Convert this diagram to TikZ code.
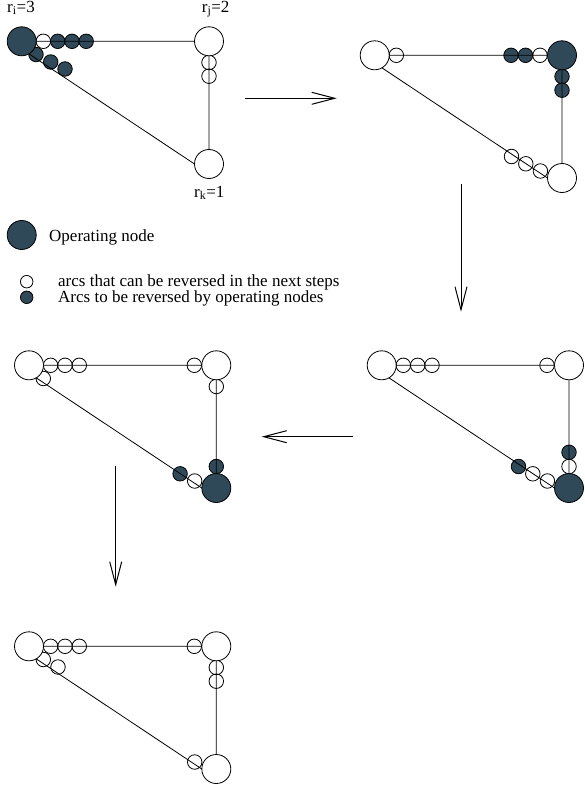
\documentclass[tikz,border=0pt]{standalone}
\usepackage{fontspec}
\setmainfont{Liberation Serif}
\usetikzlibrary{arrows.meta}
\definecolor{opnode}{RGB}{47,73,89}

\begin{document}
\begin{tikzpicture}[x=1pt,y=-1pt]
        \tikzstyle{vertex}=[circle,draw=black,line width=0.8pt,fill=white,minimum size=29pt,inner sep=0pt,outer sep=0pt]
        \tikzstyle{operating}=[vertex,fill=opnode]
        \tikzstyle{arc}=[circle,draw=black,line width=0.8pt,minimum size=14.5pt,inner sep=0pt]
        \tikzstyle{reversed}=[arc,fill=opnode]
        \tikzstyle{edge}=[draw=black,line width=0.8pt]
        \tikzstyle{flow}=[draw=black,line width=1pt,-{Straight Barb[length=23pt,width=12pt]}]
        \tikzstyle{rank}=[font=\fontsize{17}{20}\selectfont,inner sep=0pt]

        \useasboundingbox (0,0) rectangle (585,789);

       % step 1: i operates
       \begin{scope}
         \node [arc] (p1a1) at (43.3,41.3) {};
         \node [reversed] (p1a2) at (57.7,41.3) {};
         \node [reversed] (p1a3) at (72,41.3) {};
         \node [reversed] (p1a4) at (86.2,41.3) {};
         \node [reversed] (p1e1) at (36,54.5) {};
         \node [reversed] (p1e2) at (50.7,62) {};
         \node [reversed] (p1e3) at (65,69) {};
         \node [arc] (p1c1) at (209,62.5) {};
         \node [arc] (p1c2) at (209,76.2) {};

         \node [operating] (i1) at (21.7,41.3) {};
         \node [vertex] (j1) at (209,41.3) {};
         \node [vertex] (k1) at (209,164) {};

         \path[edge] (i1) -- (j1) (j1) -- (k1) (i1.-60) -- (k1.west);

         \node [rank,anchor=base west] (ri) at (7,12.3) {r\textsubscript{i}=3};
         \node [rank,anchor=base west] (rj) at (201.7,12.3) {r\textsubscript{j}=2};
         \node [rank,anchor=base west] (rk) at (194,197) {r\textsubscript{k}=1};
       \end{scope}

       % step 2: j operates
       \begin{scope}[shift={(353,14)}]
         \node [arc] (p2a1) at (43.3,41.3) {};
         \node [arc] (p2b1) at (187,41.3) {};
         \node [reversed] (p2b2) at (172.5,41.3) {};
         \node [reversed] (p2b3) at (158,41.3) {};
         \node [reversed] (p2c1) at (209,62.5) {};
         \node [reversed] (p2c2) at (209,76.2) {};
         \node [arc] (p2f1) at (187.4,157) {};
         \node [arc] (p2f2) at (172.8,149.8) {};
         \node [arc] (p2f3) at (158.5,142.5) {};

         \node [vertex] (i2) at (21.7,41.3) {};
         \node [operating] (j2) at (209,41.3) {};
         \node [vertex] (k2) at (209,164) {};

         \path[edge] (i2) -- (j2) (j2) -- (k2) (i2.-60) -- (k2.west);
       \end{scope}

       % step 3: k operates
       \begin{scope}[shift={(360,324)}]
         \node [arc] (p4a1) at (43.3,41.3) {};
         \node [arc] (p4a2) at (57.7,41.3) {};
         \node [arc] (p4a3) at (72,41.3) {};
         \node [arc] (p4b1) at (187,41.3) {};
         \node [arc] (p4d1) at (209,142.5) {};
         \node [reversed] (p4d2) at (209,128.3) {};
         \node [arc] (p4f1) at (187.4,157) {};
         \node [arc] (p4f2) at (172.8,149.8) {};
         \node [reversed] (p4f3) at (158.5,142.5) {};

         \node [vertex] (i4) at (21.7,41.3) {};
         \node [vertex] (j4) at (209,41.3) {};
         \node [operating] (k4) at (209,164) {};

         \path[edge] (i4) -- (j4) (j4) -- (k4) (i4.-60) -- (k4.west);
       \end{scope}

       % step 4: k operates again
       \begin{scope}[shift={(7.3,324)}]
         \node [arc] (p3a1) at (43.3,41.3) {};
         \node [arc] (p3a2) at (57.7,41.3) {};
         \node [arc] (p3a3) at (72,41.3) {};
         \node [arc] (p3e1) at (36,54.5) {};
         \node [arc] (p3b1) at (187,41.3) {};
         \node [arc] (p3c1) at (209,62.5) {};
         \node [reversed] (p3d1) at (209,142.5) {};
         \node [arc] (p3f1) at (187.4,157) {};
         \node [reversed] (p3f2) at (172.8,149.8) {};

         \node [vertex] (i3) at (21.7,41.3) {};
         \node [vertex] (j3) at (209,41.3) {};
         \node [operating] (k3) at (209,164) {};

         \path[edge] (i3) -- (j3) (j3) -- (k3) (i3.-60) -- (k3.west);
       \end{scope}

       % final state
       \begin{scope}[shift={(7.3,605)}]
         \node [arc] (p5a1) at (43.3,41.3) {};
         \node [arc] (p5a2) at (57.7,41.3) {};
         \node [arc] (p5a3) at (72,41.3) {};
         \node [arc] (p5b1) at (187,41.3) {};
         \node [arc] (p5c1) at (209,62.5) {};
         \node [arc] (p5c2) at (209,76.2) {};
         \node [arc] (p5e1) at (36,54.5) {};
         \node [arc] (p5e2) at (50.7,62) {};
         \node [arc] (p5f1) at (187.4,157) {};

         \node [vertex] (i5) at (21.7,41.3) {};
         \node [vertex] (j5) at (209,41.3) {};
         \node [vertex] (k5) at (209,164) {};

         \path[edge] (i5) -- (j5) (j5) -- (k5) (i5.-60) -- (k5.west);
       \end{scope}

       % legend
       \node [operating] (leg1) at (21.7,235) {};
       \node [rank,anchor=base west] (leg1t) at (49,241.7) {Operating node};
       \node [arc,minimum size=12.5pt] (leg2) at (26.7,281.7) {};
       \node [rank,anchor=base west] (leg2t) at (58,286.7) {arcs that can be reversed in the next steps};
       \node [reversed,minimum size=12.5pt] (leg3) at (26.7,297.3) {};
       \node [rank,anchor=base west] (leg3t) at (58,302.7) {Arcs to be reversed by operating nodes};

       % steps
       \coordinate (f1s) at (245,98.3);   \coordinate (f1e) at (336.7,98.3);
       \coordinate (f2s) at (461,184);    \coordinate (f2e) at (461,311.7);
       \coordinate (f3s) at (353.3,436.7); \coordinate (f3e) at (261.7,436.7);
       \coordinate (f4s) at (115.7,466);  \coordinate (f4e) at (115.7,586.7);
       \path[flow] (f1s) -- (f1e);
       \path[flow] (f2s) -- (f2e);
       \path[flow] (f3s) -- (f3e);
       \path[flow] (f4s) -- (f4e);
      \end{tikzpicture}
\end{document}
